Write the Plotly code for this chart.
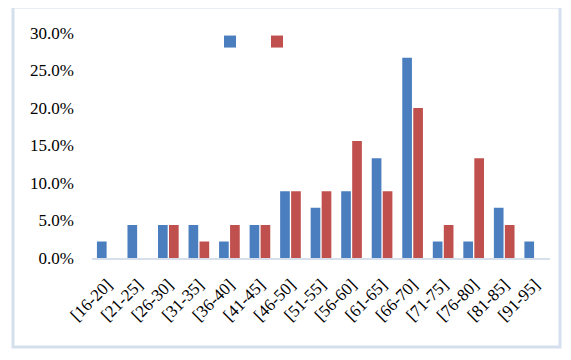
import plotly.graph_objects as go

categories = ["[16-20]", "[21-25]", "[26-30]", "[31-35]", "[36-40]", "[41-45]", "[46-50]",
              "[51-55]", "[56-60]", "[61-65]", "[66-70]", "[71-75]", "[76-80]", "[81-85]", "[91-95]"]
series_blue = [0.022, 0.044, 0.044, 0.044, 0.022, 0.044, 0.089, 0.067, 0.089, 0.133, 0.267,
               0.022, 0.022, 0.067, 0.022]
series_red = [0.0, 0.0, 0.044, 0.022, 0.044, 0.044, 0.089, 0.089, 0.156, 0.089, 0.200,
              0.044, 0.133, 0.044, 0.0]
y_ticks = [0, 0.05, 0.10, 0.15, 0.20, 0.25, 0.30]

FONT = "Liberation Serif"
OFF = 8  # page body margin

fig = go.Figure()
fig.add_trace(go.Bar(x=categories, y=series_blue, name=" ", marker=dict(color="#4A7EBF", line_width=0)))
fig.add_trace(go.Bar(x=categories, y=series_red, name=" ", marker=dict(color="#C0504D", line_width=0)))

W, H = 571 - OFF, 360 - OFF
L = 92 - OFF
T = 33 - OFF
R = W - (550 - OFF)
B = H - (258 - OFF)
pw, ph = W - L - R, H - T - B

def px_x(x):
    return (x - OFF - L) / pw

def px_y(y):
    return (H - B - (y - OFF)) / ph

fig.update_layout(
    width=W, height=H,
    margin=dict(l=L, r=R, t=T, b=B, autoexpand=False),
    paper_bgcolor="white", plot_bgcolor="white",
    barmode="group", bargap=0.28, bargroupgap=0.12,
    font=dict(family=FONT, size=17, color="black"),
    showlegend=True,
    legend=dict(orientation="h", x=px_x(210), y=px_y(24), xanchor="left", yanchor="top",
                bgcolor="rgba(0,0,0,0)", entrywidth=2, entrywidthmode="pixels",
                font=dict(size=17, family=FONT)),
    xaxis=dict(showline=True, linecolor="#D6DFEA", linewidth=2, tickangle=-45, showgrid=False,
               ticks="", ticklabelstandoff=8, tickfont=dict(size=17, family=FONT)),
    yaxis=dict(range=[0, 0.30], tickvals=y_ticks, tickformat=".1%", showgrid=False, zeroline=False,
               showline=False, ticks="", ticklabelstandoff=17, tickfont=dict(size=17, family=FONT)),
    shapes=[dict(type="rect", xref="paper", yref="paper",
                 x0=px_x(13), x1=px_x(560), y0=px_y(347), y1=px_y(7),
                 line=dict(color="#D5DFEE", width=3), fillcolor="rgba(0,0,0,0)", layer="below")],
)

fig.write_html("out.html")
